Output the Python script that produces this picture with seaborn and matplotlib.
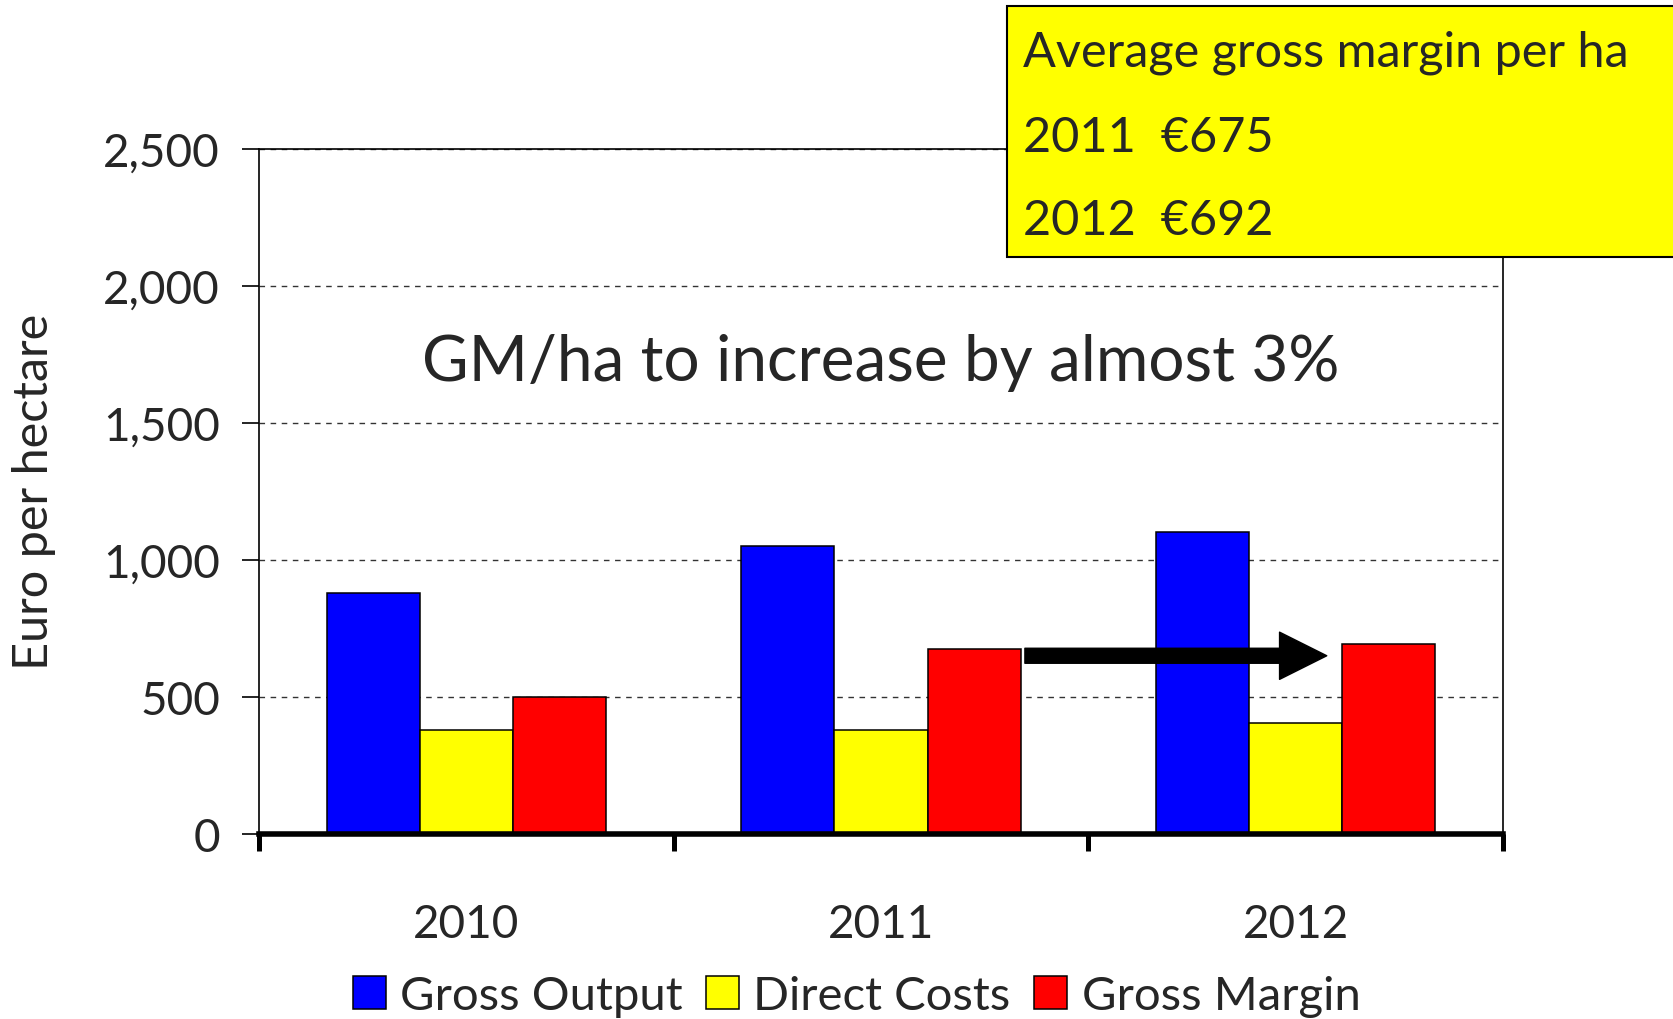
import matplotlib
matplotlib.use("Agg")
import matplotlib.pyplot as plt
import seaborn as sns
import pandas as pd
from matplotlib.patches import Rectangle

# data
years = ["2010", "2011", "2012"]
series_names = ["Gross Output", "Direct Costs", "Gross Margin"]
gross_output = [880, 1050, 1100]
direct_costs = [378, 378, 405]
gross_margin = [500, 675, 692]
bar_colors = ["#0000FF", "#FFFF00", "#FF0000"]

y_ticks = [0, 500, 1000, 1500, 2000, 2500]
y_tick_labels = ["0", "500", "1,000", "1,500", "2,000", "2,500"]

note_title = "Average gross margin per ha"
note_lines = ["2011  €675", "2012  €692"]
headline = "GM/ha to increase by almost 3%"

# arrow from the 2011 margin towards the 2012 margin
arrow_start = (1.347, 650)
arrow_end = (2.075, 650)

df = pd.DataFrame({
    "year": years * 3,
    "series": [s for s in series_names for _ in years],
    "value": gross_output + direct_costs + gross_margin,
})

sns.set_theme(style="white")
plt.rcParams["font.family"] = ["Lato", "DejaVu Sans"]

fig = plt.figure(figsize=(16.73, 10.20), dpi=100)
ax = fig.add_axes([0.1548, 0.1814, 0.7436, 0.672])

sns.barplot(
    data=df,
    x="year",
    y="value",
    hue="series",
    hue_order=series_names,
    palette=bar_colors,
    width=0.673,
    edgecolor="black",
    linewidth=1.1,
    saturation=1,
    ax=ax,
)

ax.set_xlim(-0.5, 2.5)
ax.set_ylim(0, 2500)
ax.set_xlabel("")
ax.set_ylabel("")

ax.set_yticks(y_ticks)
ax.set_yticklabels(y_tick_labels)
ax.yaxis.grid(True, linestyle=(0, (4, 4)), color="#333333", linewidth=1.0)
ax.set_axisbelow(True)

ax.set_xticks(range(len(years)))
ax.set_xticklabels(years)
ax.set_xticks([-0.5, 0.5, 1.5, 2.5], minor=True)
ax.tick_params(axis="x", which="major", length=0, pad=50, labelsize=33)
ax.tick_params(axis="x", which="minor", bottom=True, length=12, width=3.6,
               direction="out", color="black")
ax.tick_params(axis="y", length=12, width=1.2, direction="out",
               color="black", pad=16, labelsize=33, left=True)

for side in ["top", "left", "right"]:
    ax.spines[side].set_visible(True)
    ax.spines[side].set_color("black")
    ax.spines[side].set_linewidth(1.2)
ax.spines["bottom"].set_color("black")
ax.spines["bottom"].set_linewidth(4)

ax.text(1.0, 1657, headline, ha="center", va="baseline", fontsize=46)

ax.annotate(
    "", xy=arrow_end, xytext=arrow_start,
    arrowprops=dict(width=10.8, headwidth=34, headlength=34, shrink=0,
                    facecolor="black", edgecolor="black"),
)

fig.text(0.0205, 0.5176, "Euro per hectare", rotation=90,
         ha="center", va="center", fontsize=35)

handles, labels = ax.get_legend_handles_labels()
ax.get_legend().remove()
fig.legend(
    handles, labels, loc="center", bbox_to_anchor=(0.512, 0.0226), ncol=3,
    frameon=False, fontsize=34, handlelength=0.7, handleheight=0.7,
    handletextpad=0.3, columnspacing=0.5,
)

# yellow call-out box in the top right corner
fig.add_artist(Rectangle((0.6019, 0.747), 0.5, 0.2464, transform=fig.transFigure,
                         facecolor="#FFFF00", edgecolor="black",
                         linewidth=1.5, zorder=5))
fig.text(0.6115, 0.9346, note_title, fontsize=35, va="baseline", zorder=6)
fig.text(0.6115, 0.8513, note_lines[0], fontsize=35, va="baseline", zorder=6)
fig.text(0.6115, 0.7696, note_lines[1], fontsize=35, va="baseline", zorder=6)

fig.savefig("out.png", dpi=100)
plt.close(fig)
